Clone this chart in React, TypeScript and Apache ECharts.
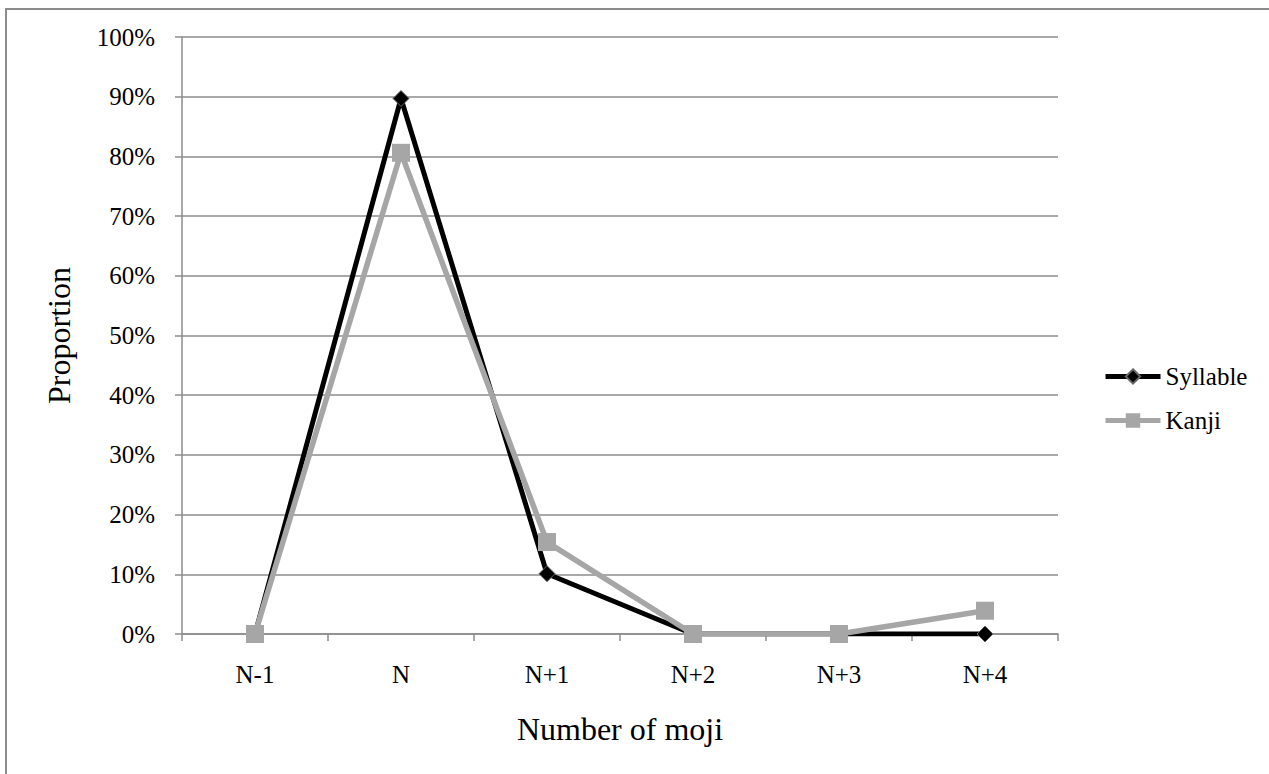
import React, { useEffect, useRef } from "react";
import * as echarts from "echarts";

const categories = ["N-1", "N", "N+1", "N+2", "N+3", "N+4"];
const syllable = [0, 89.7, 10.1, 0, 0, 0];
const kanji = [0, 80.6, 15.4, 0, 0, 3.9];

const FONT = "'Liberation Serif', 'Times New Roman', serif";

export default function App() {
  const ref = useRef<HTMLDivElement>(null);
  useEffect(() => {
    document.body.style.margin = "0";
    const chart = echarts.init(ref.current!, null, { renderer: "svg" });
    chart.setOption({
      animation: false,
      backgroundColor: "#ffffff",
      textStyle: { fontFamily: FONT, color: "#000" },
      graphic: [
        {
          type: "rect",
          shape: { x: 6, y: 9, width: 1400, height: 900 },
          style: { fill: "none", stroke: "#8c8c8c", lineWidth: 2 },
          silent: true,
        },
      ],
      grid: { left: 182, right: 211, top: 37, bottom: 140, containLabel: false },
      legend: {
        orient: "vertical",
        left: 1098,
        top: 359,
        itemWidth: 55,
        itemHeight: 18,
        itemGap: 19,
        lineStyle: { width: 5 },
        textStyle: { fontFamily: FONT, fontSize: 25, color: "#000" },
        data: ["Syllable", "Kanji"],
      },
      xAxis: {
        type: "category",
        data: categories,
        boundaryGap: true,
        name: "Number of moji",
        nameLocation: "middle",
        nameGap: 79,
        nameMoveOverlap: false,
        nameTextStyle: { fontFamily: FONT, fontSize: 32, color: "#000", verticalAlign: "top" },
        axisLine: { lineStyle: { color: "#8c8c8c", width: 1.5 } },
        axisTick: { show: true, length: 7, lineStyle: { color: "#8c8c8c", width: 1.5 } },
        axisLabel: { fontFamily: FONT, fontSize: 25, color: "#000", margin: 28 },
        splitLine: { show: false },
      },
      yAxis: {
        type: "value",
        min: 0,
        max: 100,
        interval: 10,
        name: "Proportion",
        nameLocation: "middle",
        nameGap: 107,
        nameMoveOverlap: false,
        nameTextStyle: { fontFamily: FONT, fontSize: 32, color: "#000" },
        axisLine: { show: true, lineStyle: { color: "#8c8c8c", width: 1.5 } },
        axisTick: { show: true, length: 7, lineStyle: { color: "#8c8c8c", width: 1.5 } },
        axisLabel: { fontFamily: FONT, fontSize: 25, color: "#000", margin: 27, formatter: "{value}%" },
        splitLine: { show: true, lineStyle: { color: "#8c8c8c", width: 1.5 } },
      },
      series: [
        {
          name: "Syllable",
          type: "line",
          data: syllable,
          symbol: "diamond",
          symbolSize: 16,
          lineStyle: { color: "#000", width: 5 },
          itemStyle: { color: "#000", borderColor: "#666", borderWidth: 1 },
        },
        {
          name: "Kanji",
          type: "line",
          data: kanji,
          symbol: "rect",
          symbolSize: 18,
          lineStyle: { color: "#a6a6a6", width: 5.5 },
          itemStyle: { color: "#a6a6a6" },
        },
      ],
    });
    return () => chart.dispose();
  }, []);
  return (
    <div
      ref={ref}
      style={{ position: "fixed", left: 0, top: 0, width: 1269, height: 774 }}
    />
  );
}
